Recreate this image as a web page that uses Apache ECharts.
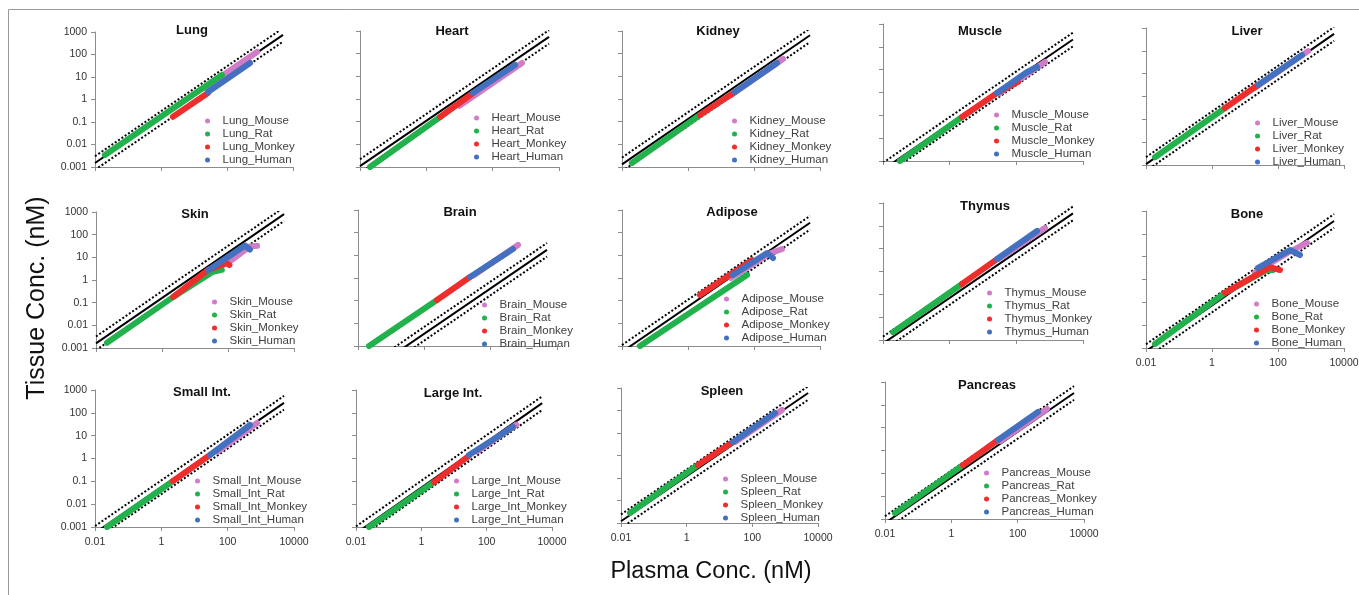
<!DOCTYPE html>
<html><head><meta charset="utf-8">
<script src="https://cdn.jsdelivr.net/npm/echarts@6/dist/echarts.min.js"></script>
<style>html,body{margin:0;padding:0;background:#fff}#c{width:1359px;height:595px}</style>
</head><body><div id="c"></div><script>
// ---------- DATA ----------
const tissues = ['Lung','Heart','Kidney','Muscle','Liver','Skin','Brain','Adipose','Thymus','Bone','Small Int.','Large Int.','Spleen','Pancreas'];
const seriesPrefixes = ['Lung','Heart','Kidney','Muscle','Liver','Skin','Brain','Adipose','Thymus','Bone','Small_Int','Large_Int','Spleen','Pancreas'];
const species = ['Mouse','Rat','Monkey','Human'];
const xTickLabels = ['0.01','1','100','10000'];
const yTickLabels = ['0.001','0.01','0.1','1','10','100','1000'];
// predicted tissue:plasma ratio (solid line) per tissue, and fold range (dotted lines)
const kpValues = [0.15, 0.11, 0.13, 0.042, 0.11, 0.16, 0.0035, 0.055, 0.07, 0.073, 0.055, 0.053, 0.12, 0.066];
const foldRange = 2;
const lineXRange = [0.01, 5000];

const lungMouse = [[20,3.2],[810,129]];
const lungRat = [[0.02,0.0034],[70,12.3]];
const lungMonkey = [[2.3,0.17],[26.5,1.95]];
const lungHuman = [[26.5,2.15],[500,42]];

const heartMouse = [[10,0.5],[766,38.7]];
const heartRat = [[0.02,0.001],[2.6,0.16]];
const heartMonkey = [[2.6,0.16],[25.5,1.84]];
const heartHuman = [[25.5,1.84],[471,31.6]];

const kidneyMouse = [[20,1.5],[757,58]];
const kidneyRat = [[0.02,0.0015],[2.31,0.197]];
const kidneyMonkey = [[2.31,0.197],[26.5,2.04]];
const kidneyHuman = [[26.5,2.04],[498,38.7]];

const muscleMouse = [[30,0.9],[724,21.7]];
const muscleRat = [[0.032,0.001],[2.34,0.085]];
const muscleMonkey = [[2.34,0.085],[26.3,0.95],[112,2.9]];
const muscleHuman = [[26.3,0.95],[200,7.5],[417,13.1]];

const liverMouse = [[20,2.4],[811,97]];
const liverRat = [[0.0187,0.0022],[2.48,0.313]];
const liverMonkey = [[2.48,0.313],[24.8,3.19]];
const liverHuman = [[24.8,3.19],[533,65.7]];

const skinMouse = [[60,4],[141,8.4],[450,30],[760,32]];
const skinRat = [[0.0215,0.0017],[2.2,0.18],[35,2.3],[65,2.8]];
const skinMonkey = [[2.2,0.18],[25,2.8],[90,5.6],[110,4.6]];
const skinHuman = [[25,2.7],[330,33],[460,22]];

const brainMouse = [[30,1.3],[667,28.6]];
const brainRat = [[0.0215,0.001],[2.41,0.107]];
const brainMonkey = [[2.41,0.107],[23.8,1.1]];
const brainHuman = [[23.8,1.1],[471,19]];

const adiposeMouse = [[20,1.0],[300,12],[705,19]];
const adiposeRat = [[0.035,0.001],[61.4,1.36]];
const adiposeMonkey = [[2.31,0.178],[87,6.2]];
const adiposeHuman = [[23,1.36],[248,12.7],[377,7.6]];

const thymusMouse = [[30,3.5],[724,80]];
const thymusRat = [[0.02,0.0022],[2.34,0.284]];
const thymusMonkey = [[2.34,0.284],[26.3,3.5]];
const thymusHuman = [[26.3,3.5],[417,59.5]];

const boneMouse = [[20,2],[200,15],[757,40]];
const boneRat = [[0.0187,0.0015],[2.48,0.26],[40,2.4],[70,2.6]];
const boneMonkey = [[2.48,0.26],[57,3.5],[115,2.6]];
const boneHuman = [[24.8,3.2],[231,19.5],[464,11.8]];

const smallIntMouse = [[50,2],[766,36]];
const smallIntRat = [[0.023,0.001],[2.25,0.1035]];
const smallIntMonkey = [[2.25,0.1035],[29.3,1.42]];
const smallIntHuman = [[29.3,1.42],[471,29.3]];

const largeIntMouse = [[50,2],[800,30]];
const largeIntRat = [[0.025,0.001],[2.44,0.093]];
const largeIntMonkey = [[2.44,0.093],[28.8,1.3]];
const largeIntHuman = [[28.8,1.42],[640,24]];

const spleenMouse = [[30,4],[800,105]];
const spleenRat = [[0.0188,0.0028],[2.2,0.378]];
const spleenMonkey = [[2.2,0.378],[25.8,4]];
const spleenHuman = [[25.8,4],[490,77]];

const pancreasMouse = [[30,2.6],[766,66]];
const pancreasRat = [[0.02,0.0018],[2.25,0.23]];
const pancreasMonkey = [[2.25,0.23],[25.5,2.88]];
const pancreasHuman = [[25.5,2.88],[410,48.5]];

const speciesData = [
  [lungMouse,lungRat,lungMonkey,lungHuman],
  [heartMouse,heartRat,heartMonkey,heartHuman],
  [kidneyMouse,kidneyRat,kidneyMonkey,kidneyHuman],
  [muscleMouse,muscleRat,muscleMonkey,muscleHuman],
  [liverMouse,liverRat,liverMonkey,liverHuman],
  [skinMouse,skinRat,skinMonkey,skinHuman],
  [brainMouse,brainRat,brainMonkey,brainHuman],
  [adiposeMouse,adiposeRat,adiposeMonkey,adiposeHuman],
  [thymusMouse,thymusRat,thymusMonkey,thymusHuman],
  [boneMouse,boneRat,boneMonkey,boneHuman],
  [smallIntMouse,smallIntRat,smallIntMonkey,smallIntHuman],
  [largeIntMouse,largeIntRat,largeIntMonkey,largeIntHuman],
  [spleenMouse,spleenRat,spleenMonkey,spleenHuman],
  [pancreasMouse,pancreasRat,pancreasMonkey,pancreasHuman]
];

// ---------- LAYOUT / STYLE ----------
const speciesColors = ['#D07CC6','#22B14C','#EE2D2D','#4470C0'];
// [left, top, width, height, titleX, titleY, legendIconX, legendIconY, showXLabels, showYLabels]
const layout = [
  [95,32,198,135, 192,30, 208,121, false,true],
  [360,31,199,136, 452,31, 477,118, false,false],
  [622,31,198,136, 718,31, 735,121, false,false],
  [883,24,200,137, 980,31, 997,115, false,false],
  [1146,28,198,137, 1247,31, 1258,123, false,false],
  [96,212,198,136, 195,214, 215,302, false,true],
  [358,210,199,136, 460,212, 485,305, false,false],
  [622,210,198,136, 732,212, 727,299, false,false],
  [883,203,200,137, 985,206, 990,293, false,false],
  [1146,211,198,137, 1247,214, 1257,304, true,false],
  [95,390,199,137, 202,392, 198,481, true,true],
  [356,390,196,137, 453,393, 457,481, true,false],
  [621,388,197,135, 722,391, 726,479, true,false],
  [885,382,199,137, 987,385, 987,473, true,false]
];
const FONT = '"Liberation Sans", Arial, sans-serif';
const legendShiftX = -3;

const grids=[], xAxes=[], yAxes=[], series=[], legends=[], graphics=[];
graphics.push({type:'rect', shape:{x:8.5,y:9.5,width:1400,height:700}, style:{fill:'none', stroke:'#9a9a9a', lineWidth:1}, silent:true});
graphics.push({type:'text', x:711, y:572, style:{text:'Plasma Conc. (nM)', font:'23.5px '+FONT, fill:'#111', align:'center', verticalAlign:'middle', textAlign:'center', textVerticalAlign:'middle'}});
graphics.push({type:'text', x:37, y:298, rotation:Math.PI/2, style:{text:'Tissue Conc. (nM)', font:'25px '+FONT, fill:'#111', align:'center', verticalAlign:'middle', textAlign:'center', textVerticalAlign:'middle'}});

const axisGray = '#8c8c8c';
tissues.forEach((t,i)=>{
  const [L,T,W,H,tx,ty,lx,ly,showX,showY] = layout[i];
  grids.push({left:L, top:T, width:W, height:H, containLabel:false, outerBoundsMode:'none'});
  xAxes.push({type:'log', logBase:100, min:0.01, max:10000, splitNumber:3, gridIndex:i,
    axisLine:{lineStyle:{color:axisGray, width:1}}, axisTick:{show:true, length:4, lineStyle:{color:axisGray}},
    splitLine:{show:false}, minorTick:{show:false},
    axisLabel:{show:showX, margin:10, fontSize:10.5, fontFamily:FONT, color:'#333', showMinLabel:true, showMaxLabel:true,
      formatter:v=>xTickLabels[Math.round(Math.log10(v)/2)+1]}});
  yAxes.push({type:'log', logBase:10, min:0.001, max:1000, splitNumber:6, gridIndex:i,
    axisLine:{show:true, lineStyle:{color:axisGray, width:1}}, axisTick:{show:true, length:4, lineStyle:{color:axisGray}},
    splitLine:{show:false},
    axisLabel:{show:showY, margin:8, fontSize:10.5, fontFamily:FONT, color:'#333', showMinLabel:true, showMaxLabel:true,
      formatter:v=>yTickLabels[Math.round(Math.log10(v))+3]}});
  const kp = kpValues[i];
  const refLine = (f)=> lineXRange.map(x=>[x, kp*x*f]);
  [[1,'solid'],[foldRange,[2,2]],[1/foldRange,[2,2]]].forEach(([f,type])=>{
    series.push({type:'line', xAxisIndex:i, yAxisIndex:i, data:refLine(f), symbol:'none', silent:true, clip:true,
      lineStyle:{color:'#000', width:2, type:type}, z:1});
  });
  const names=[];
  species.forEach((s,j)=>{
    const nm = seriesPrefixes[i]+'_'+s;
    names.push(nm);
    series.push({type:'line', name:nm, xAxisIndex:i, yAxisIndex:i, data:speciesData[i][j], symbol:'none', silent:true, clip:true,
      itemStyle:{color:speciesColors[j]}, lineStyle:{color:speciesColors[j], width:6, cap:'round', join:'round'}, z:2});
  });
  legends.push({data:names, orient:'vertical', left:lx+legendShiftX, top:ly-6.5, padding:0, itemGap:0, itemWidth:20, itemHeight:5,
    icon:'circle', selectedMode:false, textStyle:{fontSize:11.5, fontFamily:FONT, color:'#404040', lineHeight:13, padding:[0,0,0,0]}});
  graphics.push({type:'text', x:tx, y:ty, style:{text:t, font:'bold 13px '+FONT, fill:'#111', align:'center', verticalAlign:'middle', textAlign:'center', textVerticalAlign:'middle'}});
});

const chart = echarts.init(document.getElementById('c'), null, {renderer:'canvas'});
chart.setOption({animation:false, backgroundColor:'#fff', grid:grids, xAxis:xAxes, yAxis:yAxes, series:series, legend:legends, graphic:graphics});
</script></body></html>
